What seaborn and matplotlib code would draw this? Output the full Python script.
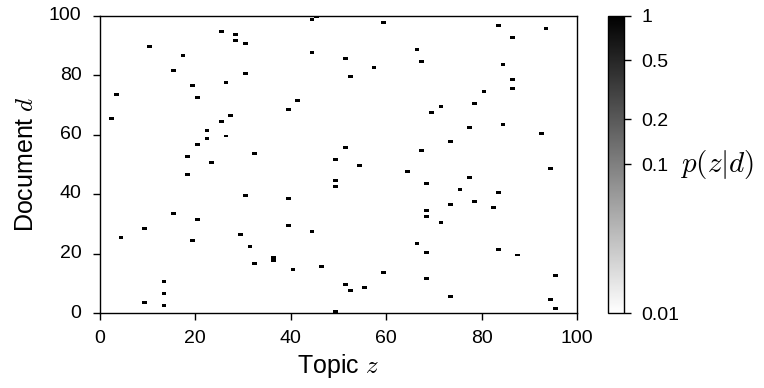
import numpy as np
import pandas as pd
import matplotlib
matplotlib.use("Agg")
import matplotlib.pyplot as plt
from matplotlib.colors import LogNorm
import seaborn as sns

# Topic assigned (p=1) to each document d = 0..99
documents = list(range(100))
topics = [49, 95, 13, 9, 94, 73, 13, 52, 55, 51,
          13, 68, 95, 59, 40, 46, 32, 36, 36, 87,
          68, 83, 31, 66, 19, 4, 29, 44, 9, 39,
          71, 20, 68, 15, 68, 82, 73, 78, 39, 30,
          83, 75, 49, 68, 49, 77, 18, 64, 94, 54,
          23, 49, 18, 32, 67, 51, 20, 73, 22, 26,
          92, 22, 77, 84, 25, 2, 27, 69, 39, 71,
          78, 41, 20, 3, 80, 86, 19, 26, 86, 52,
          30, 15, 57, 84, 67, 51, 17, 44, 66, 10,
          30, 28, 86, 28, 25, 93, 83, 59, 44, 45]
probs = [1.0] * 100
n_topics = 100

axis_ticks = [0, 20, 40, 60, 80, 100]
cbar_ticks = [0.01, 0.1, 0.2, 0.5, 1]
cbar_ticklabels = ["0.01", "0.1", "0.2", "0.5", "1"]

plt.rcParams["font.family"] = ["Liberation Sans", "DejaVu Sans"]
plt.rcParams["mathtext.fontset"] = "cm"
plt.rcParams["xtick.bottom"] = True
plt.rcParams["ytick.left"] = True
plt.rcParams["ytick.right"] = False
plt.rcParams["xtick.top"] = False

mat = np.full((len(documents), n_topics), np.nan)
for d, z, p in zip(documents, topics, probs):
    mat[d, z] = p
df = pd.DataFrame(mat, index=documents, columns=range(n_topics))

W, H = 764, 388
fig = plt.figure(figsize=(W / 100, H / 100), dpi=100)
ax = fig.add_axes([99.5 / W, 1 - 313 / H, (577 - 99.5) / W, (313 - 15.5) / H])
cax = fig.add_axes([607.5 / W, 1 - 313 / H, 16 / W, (313 - 15.5) / H])

sns.heatmap(df, ax=ax, cmap="gray_r", norm=LogNorm(vmin=0.01, vmax=1),
            cbar_ax=cax, cbar_kws={"ticks": cbar_ticks}, linewidths=0,
            rasterized=True)

ax.set_ylim(0, 100)
ax.set_xlim(0, 100)
ax.set_xticks(axis_ticks)
ax.set_xticklabels([str(t) for t in axis_ticks], rotation=0)
ax.set_yticks(axis_ticks)
ax.set_yticklabels([str(t) for t in axis_ticks], rotation=0)
ax.tick_params(axis="both", which="major", direction="out", length=5, width=1,
               labelsize=14, color="black", labelcolor="black",
               bottom=True, left=True, top=False, right=False)
ax.tick_params(axis="x", pad=7)
ax.tick_params(axis="y", pad=8)
for s in ax.spines.values():
    s.set_visible(True)
    s.set_color("black")
    s.set_linewidth(1)

ax.set_xlabel("Topic $z$", fontsize=18, labelpad=4)
ax.set_ylabel("Document $d$", fontsize=18, labelpad=8)

cbar = ax.collections[0].colorbar
cbar.set_ticks(cbar_ticks)
cbar.set_ticklabels(cbar_ticklabels)
cbar.ax.minorticks_off()
cbar.ax.tick_params(which="major", direction="out", length=5, width=1,
                    labelsize=14, pad=8, right=True, left=False,
                    color="black", labelcolor="black")
cbar.outline.set_visible(True)
cbar.outline.set_edgecolor("black")
cbar.outline.set_linewidth(1)

fig.text(680 / W, 1 - 164 / H, "$p(z|d)$", fontsize=21, ha="left", va="center")

fig.savefig("out.png", dpi=100)
